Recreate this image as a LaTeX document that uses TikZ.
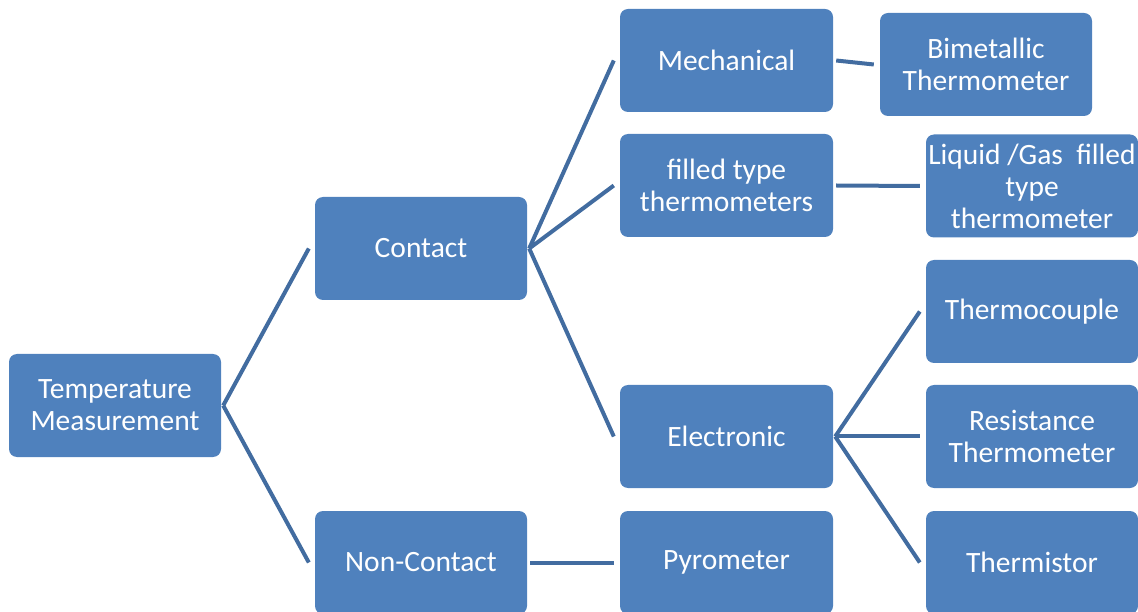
\documentclass[tikz,border=0pt]{standalone}
\usepackage{fontspec}
\setmainfont{Carlito}
\usetikzlibrary{calc}
\definecolor{boxblue}{RGB}{79,129,189}
\definecolor{lineblue}{RGB}{66,108,160}
\begin{document}
\begin{tikzpicture}[x=1pt,y=1pt,
  box/.style={fill=boxblue, rounded corners=8pt, minimum width=212pt, minimum height=103pt,
    inner sep=0pt, align=center, text=white, font=\fontsize{29.5}{32}\selectfont},
  link/.style={draw=lineblue, line width=4pt}]
\useasboundingbox (0,0) rectangle (1138,611);
\clip (0,0) rectangle (1138,611);
% y_tikz = 611 - y_px
\node[box] (tm) at (115,205.5) {Temperature\\Measurement};
\node[box] (contact) at (421,362.5) {Contact};
\node[box] (noncontact) at (421,48.5) {Non-Contact};
\node[box, minimum width=213pt] (mech) at (726.5,550.5) {Mechanical};
\node[box, minimum width=213pt] (filled) at (726.5,425.5) {filled type\\thermometers};
\node[box, minimum width=213pt] (elec) at (726.5,174.5) {Electronic};
\node[box, minimum width=213pt] (pyro) at (726.5,48.5) {Pyrometer};
\node[box] (bimet) at (986,546.5) {Bimetallic\\Thermometer};
\node[box] (liquid) at (1032,425) {Liquid /Gas\ \ filled\\type\\thermometer};
\node[box] (tcouple) at (1032,299.5) {Thermocouple};
\node[box] (resist) at (1032,174.5) {Resistance\\Thermometer};
\node[box] (thermistor) at (1032,48.5) {Thermistor};
% connectors
\draw[link] ($(tm.east)+(2,0)$) -- ($(contact.west)+(-6,0)$);
\draw[link] ($(tm.east)+(2,0)$) -- ($(noncontact.west)+(-6,0)$);
\draw[link] ($(contact.east)+(2,0)$) -- ($(mech.west)+(-6,0)$);
\draw[link] ($(contact.east)+(2,0)$) -- ($(filled.west)+(-6,0)$);
\draw[link] ($(contact.east)+(2,0)$) -- ($(elec.west)+(-6,0)$);
\draw[link] ($(noncontact.east)+(3,0)$) -- ($(pyro.west)+(-6,0)$);
\draw[link] ($(mech.east)+(3,0)$) -- ($(bimet.west)+(-6,0)$);
\draw[link] ($(filled.east)+(3,0)$) -- ($(liquid.west)+(-6,0)$);
\draw[link] ($(elec.east)+(2,0)$) -- ($(tcouple.west)+(-6,0)$);
\draw[link] ($(elec.east)+(2,0)$) -- ($(resist.west)+(-6,0)$);
\draw[link] ($(elec.east)+(2,0)$) -- ($(thermistor.west)+(-6,0)$);
\end{tikzpicture}
\end{document}
